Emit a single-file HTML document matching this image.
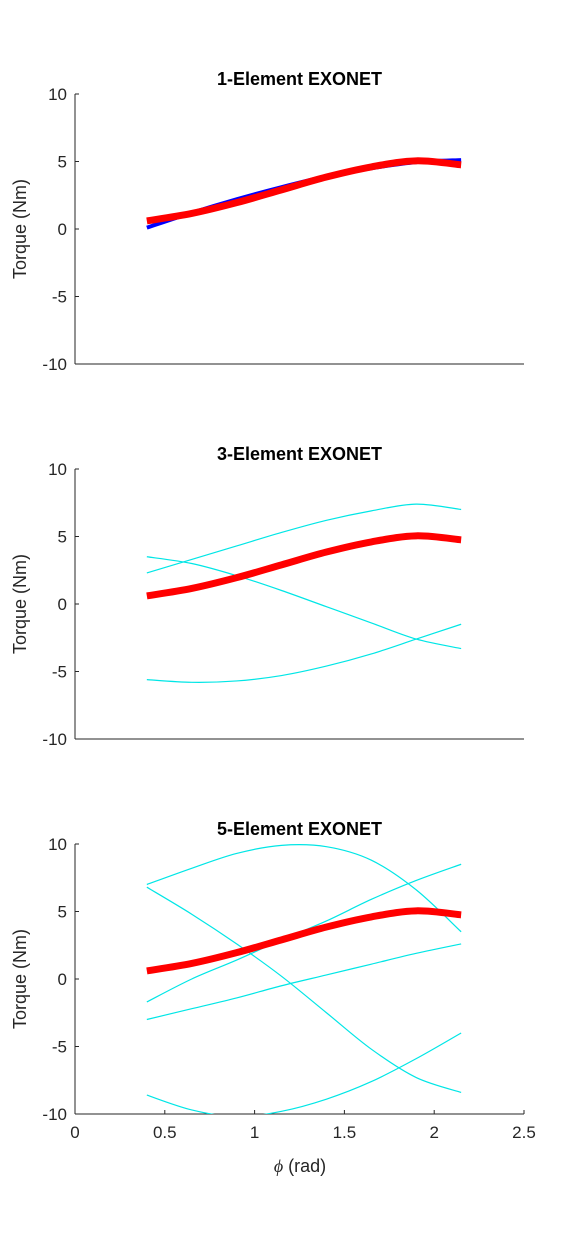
<!DOCTYPE html>
<html><head><meta charset="utf-8"><style>
body{margin:0;background:#fff}
svg{display:block;font-family:"Liberation Sans",sans-serif}
</style></head><body>
<svg id="c" width="580" height="1252"></svg>
<script>
const xs=[0.4,0.65,0.9,1.15,1.4,1.65,1.9,2.15];
const redVals=[0.6,1.15,1.95,2.9,3.85,4.6,5.05,4.75];
const blueVals=[0.1,1.2,2.2,3.1,3.9,4.5,4.95,5.1];
const p2c1=[2.3,3.3,4.3,5.3,6.2,6.9,7.4,7.0];
const p2c2=[3.5,3.0,2.1,1.0,-0.2,-1.4,-2.6,-3.3];
const p2c3=[-5.6,-5.8,-5.7,-5.3,-4.6,-3.7,-2.6,-1.5];
const p3c1=[7.0,8.2,9.3,9.9,9.8,8.8,6.6,3.5];
const p3c2=[6.8,4.8,2.6,0.2,-2.5,-5.2,-7.3,-8.4];
const p3c3=[-1.7,0,1.4,2.9,4.3,5.9,7.3,8.5];
const p3c4=[-3.0,-2.2,-1.4,-0.5,0.3,1.1,1.9,2.6];
const p3c5=[-8.6,-9.7,-10.2,-9.8,-8.9,-7.6,-5.9,-4.0];
const yTicks=[10,5,0,-5,-10];
const xTicks=[0,0.5,1,1.5,2,2.5];
const xTickLabels=["0","0.5","1","1.5","2","2.5"];

const NS="http://www.w3.org/2000/svg";
const svg=document.getElementById('c');
const L=75,R=524,H=270;
const X=v=>L+(v/2.5)*(R-L);
function mk(t,a,p){const e=document.createElementNS(NS,t);for(const k in a)e.setAttribute(k,a[k]);(p||svg).appendChild(e);return e;}
function path(vals,Y){
  const pts=xs.map((x,i)=>[X(x),Y(vals[i])]);
  let d=`M${pts[0][0]},${pts[0][1]}`;
  for(let i=0;i<pts.length-1;i++){
    const p0=pts[Math.max(i-1,0)],p1=pts[i],p2=pts[i+1],p3=pts[Math.min(i+2,pts.length-1)];
    const c1=[p1[0]+(p2[0]-p0[0])/6,p1[1]+(p2[1]-p0[1])/6];
    const c2=[p2[0]-(p3[0]-p1[0])/6,p2[1]-(p3[1]-p1[1])/6];
    d+=` C${c1[0]},${c1[1]} ${c2[0]},${c2[1]} ${p2[0]},${p2[1]}`;
  }
  return d;
}
const panels=[
 {top:94,title:"1-Element EXONET",thin:[],blue:blueVals,xt:false},
 {top:469,title:"3-Element EXONET",thin:[p2c1,p2c2,p2c3],blue:null,xt:false},
 {top:844,title:"5-Element EXONET",thin:[p3c1,p3c2,p3c3,p3c4,p3c5],blue:null,xt:true}
];
panels.forEach((p,pi)=>{
  const T=p.top,B=T+H;
  const Y=v=>T+(10-v)/20*H;
  const g=mk('g',{});
  
  
  const cp=mk('clipPath',{id:'cl'+pi},g);mk('rect',{x:L,y:T-2,width:R-L,height:H+2},cp);
  const title=mk('text',{x:(L+R)/2,y:T-9,'text-anchor':'middle','font-size':18,'font-weight':'bold',fill:'#000'},g);
  title.textContent=p.title;
  
  
  mk('line',{x1:L,y1:T,x2:L,y2:B,stroke:'#262626','stroke-width':1},g);
  mk('line',{x1:L,y1:B,x2:R,y2:B,stroke:'#262626','stroke-width':1},g);
  yTicks.forEach(t=>{
    mk('line',{x1:L,y1:Y(t),x2:L+4,y2:Y(t),stroke:'#262626'},g);
    const tx=mk('text',{x:L-8,y:Y(t)+6,'text-anchor':'end','font-size':17,fill:'#262626'},g);
    tx.textContent=t;
    
    
  });
  if(p.xt){xTicks.forEach((t,i)=>{
    mk('line',{x1:X(t),y1:B,x2:X(t),y2:B-4,stroke:'#262626'},g);
    const tx=mk('text',{x:X(t),y:B+24,'text-anchor':'middle','font-size':17,fill:'#262626'},g);
    tx.textContent=xTickLabels[i];
    
    
  });}
  const yl=mk('text',{x:0,y:0,transform:`translate(26,${(T+B)/2}) rotate(-90)`,'text-anchor':'middle','font-size':18,fill:'#262626'},g);
  yl.textContent="Torque (Nm)";
  
  
  const pg=mk('g',{'clip-path':`url(#cl${pi})`},g);
  p.thin.forEach((v,i)=>{
    const e=mk('path',{d:path(v,Y),fill:'none',stroke:'#00e6e6','stroke-width':1.2},pg);
    
    
  });
  if(p.blue){
    const e=mk('path',{d:path(p.blue,Y),fill:'none',stroke:'#0000ff','stroke-width':4},pg);
    
    
  }
  const r=mk('path',{d:path(redVals,Y),fill:'none',stroke:'#ff0000','stroke-width':7},pg);
  
  
});
const xl=mk('text',{x:300,y:1172,'text-anchor':'middle','font-size':18,fill:'#262626'});
xl.innerHTML='<tspan font-family="Liberation Serif" font-style="italic">ϕ</tspan> (rad)';


</script>
</body></html>
